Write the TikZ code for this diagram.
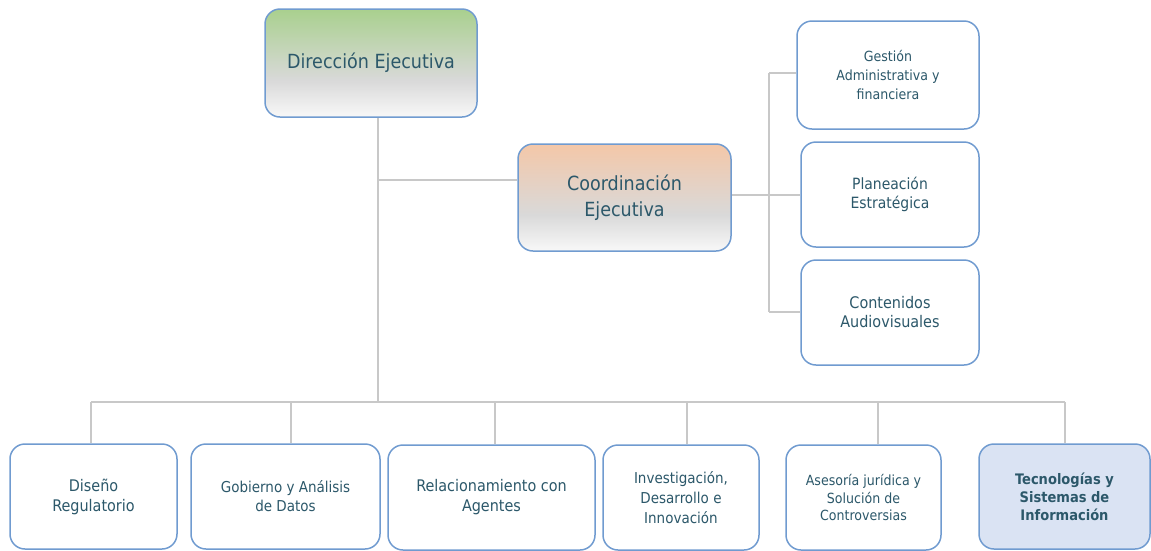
\documentclass[tikz,border=0pt]{standalone}
\usepackage{fontspec}
\setmainfont{DejaVu Sans Condensed}
\definecolor{txt}{RGB}{44,88,106}
\definecolor{edge}{RGB}{112,155,208}
\definecolor{conn}{RGB}{200,200,200}
\definecolor{dgreen}{RGB}{169,208,142}
\definecolor{dpeach}{RGB}{244,199,168}
\definecolor{midgrey}{RGB}{217,217,217}
\definecolor{lowwhite}{RGB}{248,248,248}
\definecolor{lblue}{RGB}{218,227,243}
\pgfdeclareverticalshading{greenshade}{100bp}{color(0bp)=(lowwhite); color(25bp)=(lowwhite); color(42bp)=(midgrey); color(75bp)=(dgreen); color(100bp)=(dgreen)}
\pgfdeclareverticalshading{peachshade}{100bp}{color(0bp)=(lowwhite); color(25bp)=(lowwhite); color(42bp)=(midgrey); color(75bp)=(dpeach); color(100bp)=(dpeach)}
\newcommand{\fs}[2]{\fontsize{#1}{#2}\selectfont}
\tikzset{
  box/.style={draw=edge, line width=1.5pt, rounded corners=15pt, align=center,
    text=txt, inner sep=2pt, fill=white},
  gtop/.style={box, shading=greenshade},
  ptop/.style={box, shading=peachshade},
  conn/.style={draw=conn, line width=1.4pt}
}
\begin{document}
\begin{tikzpicture}[x=1pt,y=-1pt]
\useasboundingbox (0,0) rectangle (1151,550);
% top boxes
\node[gtop, minimum width=212pt, minimum height=108pt, font=\fs{19.5}{22}] (dir) at (371,63) {Dirección Ejecutiva};
\node[ptop, minimum width=213pt, minimum height=107pt, font=\fs{19.5}{26}] (coord) at (624.5,197.5) {Coordinación\\Ejecutiva};
% right boxes
\node[box, minimum width=182pt, minimum height=108pt, font=\fs{14}{19}] (g1) at (888,75) {Gestión\\Administrativa y\\financiera};
\node[box, minimum width=178pt, minimum height=105pt, font=\fs{15.5}{19}] (g2) at (890,194.5) {Planeación\\Estratégica};
\node[box, minimum width=178pt, minimum height=105pt, font=\fs{16}{19}] (g3) at (890,312.5) {Contenidos\\Audiovisuales};
% bottom boxes
\node[box, minimum width=167pt, minimum height=105pt, font=\fs{16}{20}] (b1) at (93.5,496.5) {Diseño\\Regulatorio};
\node[box, minimum width=189pt, minimum height=105pt, font=\fs{15}{19}] (b2) at (285.5,496.5) {Gobierno y Análisis\\de Datos};
\node[box, minimum width=207pt, minimum height=105pt, font=\fs{16}{20}] (b3) at (491.5,497.5) {Relacionamiento con\\Agentes};
\node[box, minimum width=156pt, minimum height=105pt, font=\fs{15}{20}] (b4) at (681,497.5) {Investigación,\\Desarrollo e\\Innovación};
\node[box, minimum width=155pt, minimum height=105pt, font=\fs{14}{17.5}] (b5) at (863.5,497.5) {Asesoría jurídica y\\Solución de\\Controversias};
\node[box, fill=lblue, minimum width=171pt, minimum height=105pt, font=\fs{14.5}{18}\bfseries] (b6) at (1064.5,496.5) {Tecnologías y\\Sistemas de\\Información};
% connectors
\coordinate (trunk) at (378,402);
\coordinate (cj) at (378,180);
\draw[conn] (dir.south -| trunk) -- (trunk);
\draw[conn] (cj) -- (cj -| coord.west);
\coordinate (v) at (769,195);
\coordinate (vt) at (769,73);
\coordinate (vb) at (769,312);
\draw[conn] (v -| coord.east) -- (v);
\draw[conn] (vt) -- (vb);
\draw[conn] (vt) -- (vt -| g1.west);
\draw[conn] (v) -- (v -| g2.west);
\draw[conn] (vb) -- (vb -| g3.west);
\coordinate (d1) at (91,402);
\coordinate (d2) at (291,402);
\coordinate (d3) at (495,402);
\coordinate (d4) at (687,402);
\coordinate (d5) at (878,402);
\coordinate (d6) at (1065,402);
\draw[conn] (d1) -- (d6);
\draw[conn] (d1) -- (d1 |- b1.north);
\draw[conn] (d2) -- (d2 |- b2.north);
\draw[conn] (d3) -- (d3 |- b3.north);
\draw[conn] (d4) -- (d4 |- b4.north);
\draw[conn] (d5) -- (d5 |- b5.north);
\draw[conn] (d6) -- (d6 |- b6.north);
\end{tikzpicture}
\end{document}
